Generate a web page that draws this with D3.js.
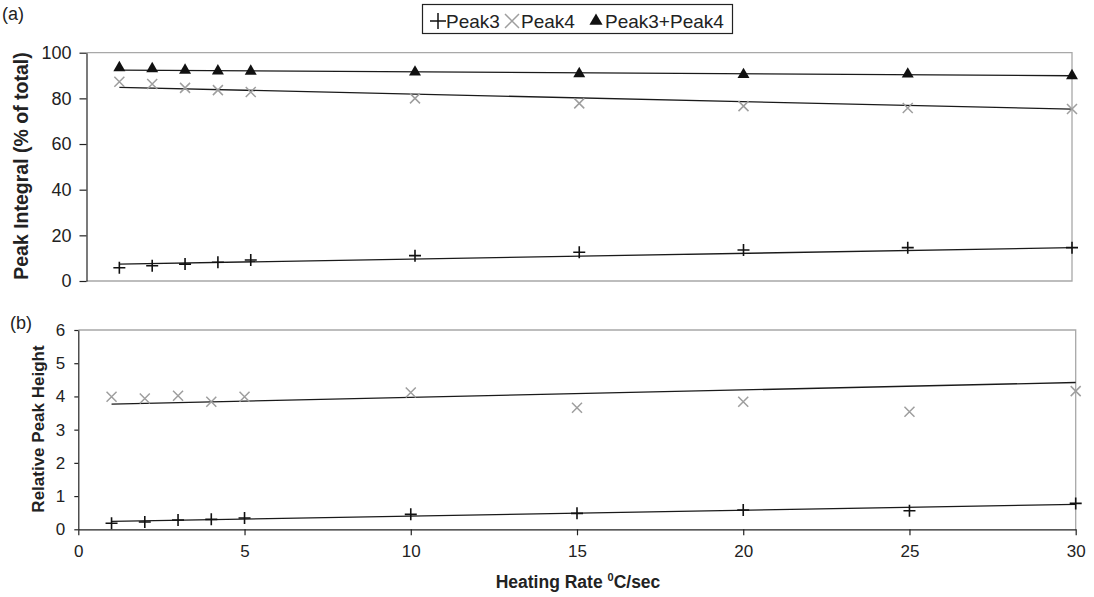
<!DOCTYPE html>
<html lang="en">
<head>
    <meta charset="UTF-8">
    <title>Peak Integral / Relative Peak Height</title>
    <style>
        body {
            margin: 0;
            background: #fff;
            font-family: 'Liberation Sans', Arial, sans-serif;
        }
        svg text { fill: #222; }
        .frame { fill: none; stroke: #a8a8a8; stroke-width: 1.3; }
        .axis path, .axis line { stroke: #222; stroke-width: 1.2; }
        .axis text { font-family: 'Liberation Sans', Arial, sans-serif; fill: #222; }
    </style>
    <script src="https://d3js.org/d3.v7.min.js"></script>
</head>
<body>
    <svg id="chart" width="1094" height="597"></svg>
    <script>
        // heating rates (°C/sec)
        const rates = [1, 2, 3, 4, 5, 10, 15, 20, 25, 30];

        // panel (a): peak integral, % of total
        const peak3Integral = [5.8, 6.7, 7.4, 8.2, 9.2, 11.1, 12.6, 13.6, 14.6, 14.6];
        const peak4Integral = [87.3, 86.3, 84.6, 83.6, 82.8, 80.0, 77.8, 76.6, 75.8, 75.3];
        const sumIntegral = [93.4, 93.0, 92.3, 92.0, 91.9, 91.5, 90.8, 90.4, 90.6, 89.9];

        // panel (b): relative peak height
        const peak3Height = [0.18, 0.22, 0.28, 0.30, 0.34, 0.45, 0.48, 0.58, 0.56, 0.78];
        const peak4Height = [3.99, 3.94, 4.02, 3.84, 3.99, 4.12, 3.66, 3.84, 3.54, 4.16];

        // linear trend lines, value at first and last rate
        const trendRates = [1, 30];
        const trendPeak3Integral = [7.4, 14.6];
        const trendPeak4Integral = [84.8, 75.3];
        const trendSumIntegral = [92.4, 89.9];
        const trendPeak3Height = [0.24, 0.75];
        const trendPeak4Height = [3.77, 4.42];

        const ticksA = [0, 20, 40, 60, 80, 100];
        const ticksB = [0, 1, 2, 3, 4, 5, 6];
        const ticksX = [0, 5, 10, 15, 20, 25, 30];

        const svg = d3.select("#chart");

        const plusPath = "M-6,0H6M0,-6V6";
        const crossPath = "M-5,-5L5,5M-5,5L5,-5";
        const triPath = d3.symbol(d3.symbolTriangle, 62)();

        function drawSeries(g, x, y, xs, ys, kind) {
            const sel = g.append("g").selectAll("path")
                .data(xs.map((d, i) => [d, ys[i]]))
                .join("path")
                .attr("transform", d => `translate(${x(d[0])},${y(d[1])})`);
            if (kind === "plus") {
                sel.attr("d", plusPath).attr("fill", "none").attr("stroke", "#111").attr("stroke-width", 1.6);
            } else if (kind === "cross") {
                sel.attr("d", crossPath).attr("fill", "none").attr("stroke", "#9e9e9e").attr("stroke-width", 1.5);
            } else {
                sel.attr("d", triPath).attr("fill", "#111");
            }
        }

        function drawTrend(g, x, y, ys) {
            g.append("path")
                .datum(trendRates.map((d, i) => [d, ys[i]]))
                .attr("fill", "none")
                .attr("stroke", "#1a1a1a")
                .attr("stroke-width", 1.3)
                .attr("d", d3.line().x(d => x(d[0])).y(d => y(d[1])));
        }

        // ---------- panel (a) ----------
        const xA = d3.scaleLinear().domain([0, 30]).range([86.5, 1072]);
        const yA = d3.scaleLinear().domain([0, 100]).range([281, 52.7]);
        const gA = svg.append("g");

        gA.append("path").attr("class", "frame")
            .attr("d", `M${xA(0)},${yA(100)}H${xA(30)}V${yA(0)}H${xA(0)}`);

        gA.append("g").attr("class", "axis")
            .attr("transform", `translate(${xA(0)},0)`)
            .call(d3.axisLeft(yA).tickValues(ticksA).tickFormat(d3.format("d")).tickSize(7).tickPadding(8).tickSizeOuter(0))
            .call(a => a.selectAll("text").style("font-size", "18px"));

        drawTrend(gA, xA, yA, trendSumIntegral);
        drawTrend(gA, xA, yA, trendPeak4Integral);
        drawTrend(gA, xA, yA, trendPeak3Integral);
        drawSeries(gA, xA, yA, rates, peak4Integral, "cross");
        drawSeries(gA, xA, yA, rates, sumIntegral, "tri");
        drawSeries(gA, xA, yA, rates, peak3Integral, "plus");

        svg.append("text")
            .attr("transform", `translate(28,${166}) rotate(-90)`)
            .attr("text-anchor", "middle")
            .style("font-size", "19.5px")
            .attr("font-weight", "bold")
            .text("Peak Integral (% of total)");

        svg.append("text").attr("x", 2).attr("y", 20).style("font-size", "18px").text("(a)");

        // ---------- panel (b) ----------
        const xB = d3.scaleLinear().domain([0, 30]).range([78.3, 1075.7]);
        const yB = d3.scaleLinear().domain([0, 6]).range([529.3, 330]);
        const gB = svg.append("g");

        gB.append("path").attr("class", "frame")
            .attr("d", `M${xB(0)},${yB(6)}H${xB(30)}V${yB(0)}`);

        gB.append("g").attr("class", "axis")
            .attr("transform", `translate(${xB(0)},0)`)
            .call(d3.axisLeft(yB).tickValues(ticksB).tickFormat(d3.format("d")).tickSize(4).tickPadding(9).tickSizeOuter(0))
            .call(a => a.selectAll("text").style("font-size", "17px"));

        gB.append("g").attr("class", "axis")
            .attr("transform", `translate(0,${yB(0)})`)
            .call(d3.axisBottom(xB).tickValues(ticksX).tickFormat(d3.format("d")).tickSize(6).tickPadding(10).tickSizeOuter(0))
            .call(a => a.selectAll("text").style("font-size", "17px"));

        drawTrend(gB, xB, yB, trendPeak4Height);
        drawTrend(gB, xB, yB, trendPeak3Height);
        drawSeries(gB, xB, yB, rates, peak4Height, "cross");
        drawSeries(gB, xB, yB, rates, peak3Height, "plus");

        svg.append("text")
            .attr("transform", `translate(44,${429}) rotate(-90)`)
            .attr("text-anchor", "middle")
            .style("font-size", "17px")
            .attr("font-weight", "bold")
            .text("Relative Peak Height");

        svg.append("text").attr("x", 10).attr("y", 329).style("font-size", "18px").text("(b)");

        const xl = svg.append("text")
            .attr("x", 578).attr("y", 588)
            .attr("text-anchor", "middle")
            .style("font-size", "17.5px")
            .attr("font-weight", "bold");
        xl.append("tspan").text("Heating Rate ");
        xl.append("tspan").style("font-size", "11px").attr("dy", -7).text("0");
        xl.append("tspan").attr("dy", 7).text("C/sec");

        // ---------- legend ----------
        const legend = svg.append("g");
        legend.append("rect")
            .attr("x", 422.5).attr("y", 4.5).attr("width", 310).attr("height", 29)
            .attr("fill", "#fff").attr("stroke", "#222").attr("stroke-width", 1.2);

        const legendItems = [
            { label: "Peak3", kind: "plus", mx: 438, tx: 446 },
            { label: "Peak4", kind: "cross", mx: 512, tx: 521 },
            { label: "Peak3+Peak4", kind: "tri", mx: 596, tx: 605 }
        ];
        legendItems.forEach(it => {
            const m = legend.append("path").attr("transform", `translate(${it.mx},21)`);
            if (it.kind === "plus") {
                m.attr("d", "M-8,0H8M0,-8V8").attr("stroke", "#111").attr("stroke-width", 1.5).attr("fill", "none");
            } else if (it.kind === "cross") {
                m.attr("d", "M-7,-7L7,7M-7,7L7,-7").attr("stroke", "#9e9e9e").attr("stroke-width", 1.5).attr("fill", "none");
            } else {
                m.attr("d", d3.symbol(d3.symbolTriangle, 75)()).attr("fill", "#111");
            }
            legend.append("text")
                .attr("x", it.tx).attr("y", 28)
                .style("font-size", "19px")
                .text(it.label);
        });
    </script>
</body>
</html>
